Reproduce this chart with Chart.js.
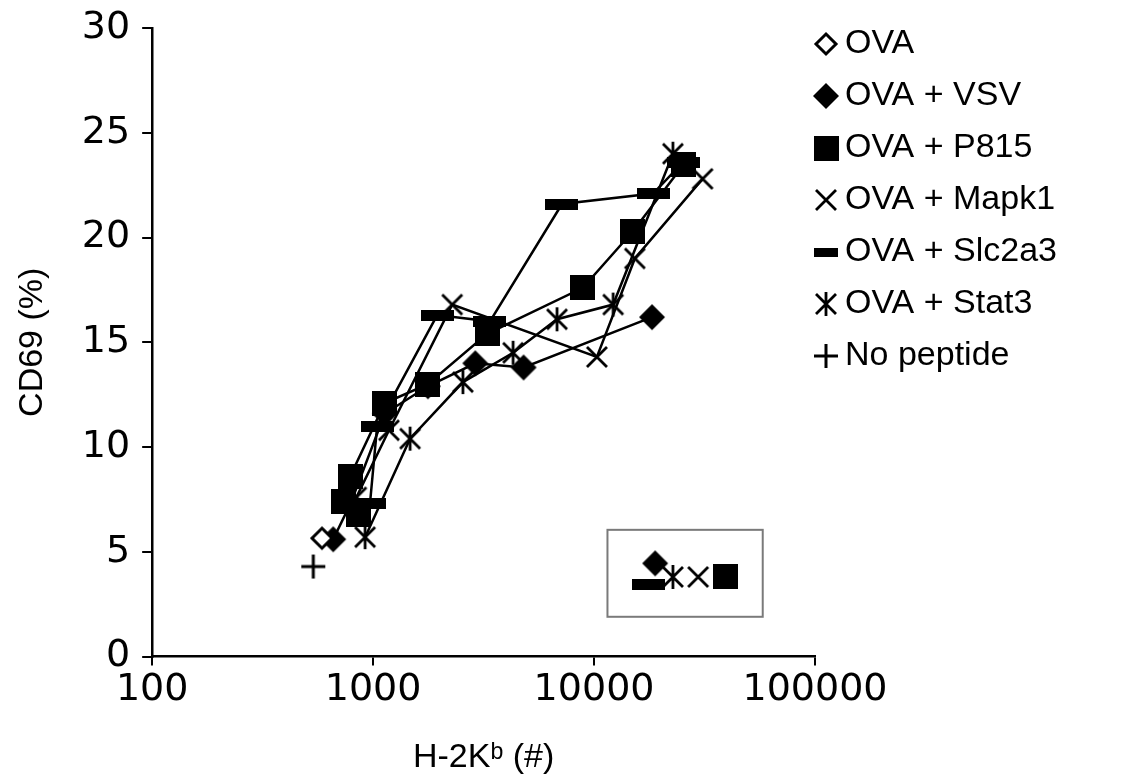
<!DOCTYPE html>
<html>
<head>
  <title>CD69 vs H-2Kb</title>
  <script src="https://cdn.jsdelivr.net/npm/chart.js"></script>
  <style>
    html, body { margin: 0; padding: 0; background: #fff; }
  </style>
</head>
<body>
  <canvas id="cd69Chart" width="1125" height="781"></canvas>

  <script>
    // values (x = H-2Kb count, y = CD69 %)
    var ovaX = [587];
    var ovaY = [5.65];
    var vsvX = [660, 790, 1130, 1770, 2900, 4800, 18300];
    var vsvY = [5.6, 7.3, 11.6, 12.9, 14.0, 13.8, 16.2];
    var p815X = [855, 731, 787, 1130, 1770, 3280, 8900, 15000, 25500];
    var p815Y = [6.8, 7.4, 8.6, 12.1, 13.0, 15.4, 17.6, 20.3, 23.5];
    var mapk1X = [840, 1180, 2280, 10300, 15300, 31000];
    var mapk1Y = [7.6, 10.8, 16.8, 14.3, 19.0, 22.8];
    var slcX = [968, 1043, 1950, 3380, 7160, 18500, 25300];
    var slcY = [7.3, 11.0, 16.3, 16.0, 21.6, 22.1, 23.6];
    var stat3X = [920, 1470, 2550, 4300, 6800, 12200, 22750];
    var stat3Y = [5.7, 10.4, 13.1, 14.5, 16.1, 16.8, 24.0];
    var noPepX = [536];
    var noPepY = [4.3];

    // points shown inside the small boxed area
    var insetKeys = ['vsv', 'slc', 'stat3', 'mapk1', 'p815'];
    var insetX = [18900, 17700, 22750, 29600, 39500];
    var insetY = [4.45, 3.45, 3.8, 3.8, 3.8];
    var insetBoxX = [11500, 58000];
    var insetBoxY = [1.9, 6.05];

    var xTickValues = [100, 1000, 10000, 100000];

    // marker glyphs drawn once on small canvases
    function marker(w, h, draw) {
      var c = document.createElement('canvas');
      c.width = w; c.height = h;
      var g = c.getContext('2d');
      g.fillStyle = '#000'; g.strokeStyle = '#000';
      draw(g, w, h);
      return c;
    }
    function diamondPath(g, w, h, m) {
      g.beginPath();
      g.moveTo(w / 2, m); g.lineTo(w - m, h / 2);
      g.lineTo(w / 2, h - m); g.lineTo(m, h / 2);
      g.closePath();
    }
    var marks = {
      ova: marker(26, 26, function (g, w, h) {
        diamondPath(g, w, h, 3); g.fillStyle = '#fff'; g.fill();
        g.lineWidth = 3; g.stroke();
      }),
      vsv: marker(28, 28, function (g, w, h) { diamondPath(g, w, h, 1); g.fill(); }),
      p815: marker(25, 25, function (g, w, h) { g.fillRect(0, 0, w, h); }),
      mapk1: marker(26, 26, function (g, w, h) {
        g.lineWidth = 2.8; g.beginPath();
        g.moveTo(3, 3); g.lineTo(w - 3, h - 3);
        g.moveTo(w - 3, 3); g.lineTo(3, h - 3); g.stroke();
      }),
      slc: marker(33, 11, function (g, w, h) { g.fillRect(0, 0, w, h); }),
      stat3: marker(26, 26, function (g, w, h) {
        g.lineWidth = 2.8; g.beginPath();
        g.moveTo(3, 3); g.lineTo(w - 3, h - 3);
        g.moveTo(w - 3, 3); g.lineTo(3, h - 3);
        g.moveTo(w / 2, 1); g.lineTo(w / 2, h - 1); g.stroke();
      }),
      noPep: marker(26, 26, function (g, w, h) {
        g.lineWidth = 3; g.beginPath();
        g.moveTo(w / 2, 1); g.lineTo(w / 2, h - 1);
        g.moveTo(1, h / 2); g.lineTo(w - 1, h / 2); g.stroke();
      })
    };
    var slcLegendMark = marker(24, 9, function (g, w, h) { g.fillRect(0, 0, w, h); });

    function pts(xs, ys) {
      return xs.map(function (x, i) { return { x: x, y: ys[i] }; });
    }
    function series(label, key, xs, ys) {
      return {
        label: label, data: pts(xs, ys), showLine: xs.length > 1,
        borderColor: '#000', borderWidth: 2.5, backgroundColor: '#000',
        pointStyle: marks[key], pointRadius: 10, pointHoverRadius: 10
      };
    }

    var datasets = [
      series('OVA', 'ova', ovaX, ovaY),
      series('OVA + VSV', 'vsv', vsvX, vsvY),
      series('OVA + P815', 'p815', p815X, p815Y),
      series('OVA + Mapk1', 'mapk1', mapk1X, mapk1Y),
      series('OVA + Slc2a3', 'slc', slcX, slcY),
      series('OVA + Stat3', 'stat3', stat3X, stat3Y),
      series('No peptide', 'noPep', noPepX, noPepY)
    ];
    var legendItems = datasets.map(function (d) {
      return { label: d.label, img: d.pointStyle === marks.slc ? slcLegendMark : d.pointStyle };
    });
    insetKeys.forEach(function (k, i) {
      datasets.push(series('', k, [insetX[i]], [insetY[i]]));
    });

    // grey frame round the inset points
    var insetFrame = {
      id: 'insetFrame',
      beforeDatasetsDraw: function (chart) {
        var sx = chart.scales.x, sy = chart.scales.y, ctx = chart.ctx;
        var x1 = sx.getPixelForValue(insetBoxX[0]), x2 = sx.getPixelForValue(insetBoxX[1]);
        var y1 = sy.getPixelForValue(insetBoxY[1]), y2 = sy.getPixelForValue(insetBoxY[0]);
        ctx.save();
        ctx.strokeStyle = '#7a7a7a';
        ctx.lineWidth = 2;
        ctx.strokeRect(x1, y1, x2 - x1, y2 - y1);
        ctx.restore();
      }
    };

    // legend to the right of the plot
    var sideLegend = {
      id: 'sideLegend',
      afterDraw: function (chart) {
        var ctx = chart.ctx;
        var mx = chart.chartArea.right + 11;
        ctx.save();
        ctx.font = '34px "Liberation Sans", Arial, sans-serif';
        ctx.fillStyle = '#000';
        ctx.textBaseline = 'middle';
        legendItems.forEach(function (it, i) {
          var y = 44 + i * 52;
          ctx.drawImage(it.img, mx - it.img.width / 2, y - it.img.height / 2);
          ctx.fillText(it.label, mx + 19, y);
        });
        ctx.restore();
      }
    };

    var tickFont = { family: 'DejaVu Sans', size: 38 };
    var yTickFont = { family: 'DejaVu Sans', size: 38, lineHeight: 0.8 };
    var titleFont = { family: 'Liberation Sans', size: 34 };

    var ctx = document.getElementById('cd69Chart').getContext('2d');
    var chart = new Chart(ctx, {
      type: 'scatter',
      data: { datasets: datasets },
      options: {
        responsive: false,
        animation: false,
        layout: { padding: { left: 2, right: 310, top: 28, bottom: 3 } },
        plugins: { legend: { display: false }, tooltip: { enabled: false } },
        scales: {
          x: {
            type: 'logarithmic', min: 100, max: 100000,
            afterBuildTicks: function (s) {
              s.ticks = xTickValues.map(function (v) { return { value: v }; });
            },
            ticks: {
              callback: function (v) { return String(v); },
              font: tickFont, color: '#000', padding: 2, maxRotation: 0, autoSkip: false
            },
            grid: { drawOnChartArea: false, drawTicks: true, tickLength: 9, color: '#000', lineWidth: 2 },
            border: { color: '#000', width: 2.5 },
            title: { display: true, text: 'H-2K\u1D47 (#)', font: titleFont, color: '#000', padding: { top: 22, bottom: 0 } }
          },
          y: {
            min: 0, max: 30,
            ticks: { stepSize: 5, font: yTickFont, color: '#000', padding: 12 },
            grid: { drawOnChartArea: false, drawTicks: true, tickLength: 10, color: '#000', lineWidth: 2 },
            border: { color: '#000', width: 2.5 },
            title: { display: true, text: 'CD69 (%)', font: titleFont, color: '#000', padding: { top: 10, bottom: 17 } }
          }
        }
      },
      plugins: [insetFrame, sideLegend]
    });
  </script>
</body>
</html>
